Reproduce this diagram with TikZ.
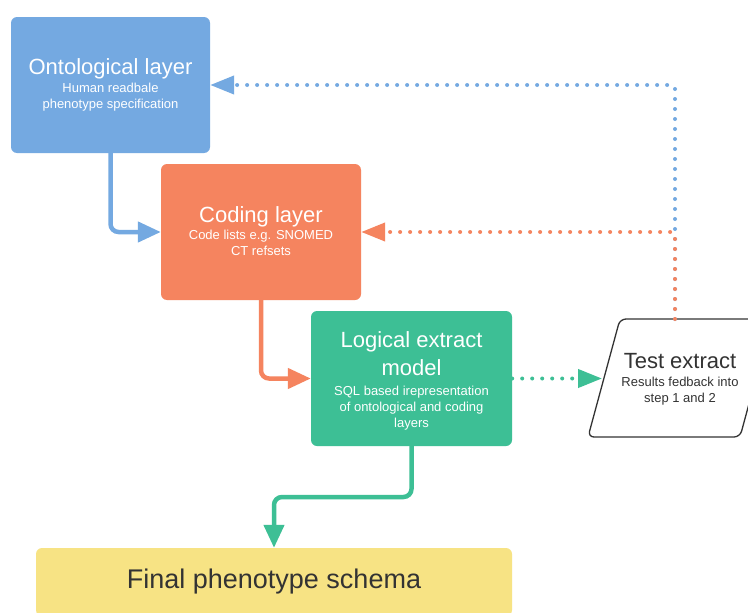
\documentclass[tikz,border=0pt]{standalone}
\usepackage{fontspec}
\setmainfont{Liberation Sans}
\usetikzlibrary{arrows.meta,calc}
\definecolor{cblue}{RGB}{116,169,225}
\definecolor{corange}{RGB}{245,132,95}
\definecolor{cgreen}{RGB}{61,191,149}
\definecolor{cyellow}{RGB}{247,227,132}
\definecolor{cdark}{RGB}{51,51,51}
\newcommand\mytitle{\fontsize{22}{26}\selectfont}
\newcommand\mysub{\fontsize{13}{16}\selectfont}
\tikzset{
  box/.style={rectangle, rounded corners=6pt, inner sep=0pt, text=white, align=center, font=\mysub},
  boxtext/.style={inner sep=0pt, text=white, align=center, font=\mysub},
  solidarrow/.style={line width=4.5pt, rounded corners=8pt, -{Triangle[length=23pt,width=20pt]}},
  dotarrow/.style={line width=4pt, line cap=round, dash pattern=on 0pt off 10pt, rounded corners=4pt, -{Triangle[length=24pt,width=18pt]}},
}
\begin{document}
\begin{tikzpicture}[x=1pt,y=-1pt]
\useasboundingbox (0,0) rectangle (748,613);
\fill[white] (0,0) rectangle (748,613);

\node[box, fill=cblue, minimum width=199pt, minimum height=136pt] (onto) at (110.5,85)
  {{\mytitle Ontological layer}\\[2pt]Human readbale\\phenotype specification};
\node[box, fill=corange, minimum width=200pt, minimum height=136pt] (coding) at (261,232) {};
\node[boxtext] (codingtext) at (261,231)
  {{\mytitle Coding layer}\\[1pt]Code lists e.g. SNOMED\\CT refsets};
\node[box, fill=cgreen, minimum width=201pt, minimum height=135pt] (logic) at (411.5,378.5) {};
\node[boxtext] (logictext) at (411.5,381)
  {{\mytitle Logical extract}\\[6pt]{\mytitle model}\\[4pt]SQL based irepresentation\\of ontological and coding\\layers};

% Test extract (parallelogram)
\draw[cdark, line width=1.3pt, fill=white, rounded corners=6pt]
  (620,319) -- (772,319) -- (740,437) -- (588,437) -- cycle;
\node[inner sep=0pt, text=cdark, align=center, font=\mysub] (test) at (680,379)
  {{\mytitle Test extract}\\[2pt]Results fedback into\\step 1 and 2};
\coordinate (testin) at (602,378.5);
\coordinate (testtop) at (675,319);

\node[box, fill=cyellow, text=cdark, minimum width=476pt, minimum height=68pt, font={\fontsize{27}{30}\selectfont}] (final) at (274,582)
  {Final phenotype schema};

\coordinate (gbend) at (411.5,497);

\draw[solidarrow, cblue] (onto.south) |- (coding.west);
\draw[solidarrow, corange] (coding.south) |- (logic.west);
\draw[solidarrow, cgreen] (logic.south) -- (logic.south |- gbend) -| (final.north);

\draw[dotarrow, cgreen] (logic.east) -- (testin);
\draw[dotarrow, cblue] (testtop) |- (onto.east);
\draw[dotarrow, corange] (testtop) |- (coding.east);
\end{tikzpicture}
\end{document}
